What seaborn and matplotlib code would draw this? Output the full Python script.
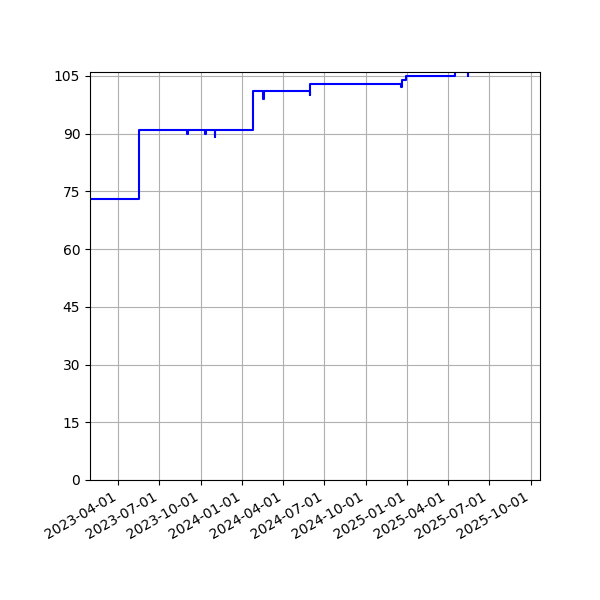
import pandas as pd
import seaborn as sns
import matplotlib.pyplot as plt
import matplotlib.dates as mdates

# step series
dates = [
    "2023-01-28", "2023-05-17", "2023-09-01", "2023-09-02", "2023-10-11",
    "2023-10-12", "2023-11-01", "2023-11-02", "2024-01-25", "2024-02-16",
    "2024-02-17", "2024-05-30", "2024-05-31", "2024-12-18", "2024-12-20",
    "2024-12-28", "2025-04-17", "2025-05-15", "2025-05-16", "2025-10-22",
]
values = [
    73, 91, 90, 91, 90,
    91, 89, 91, 101, 99,
    101, 100, 103, 102, 104,
    105, 107, 105, 107, 108,
]

df = pd.DataFrame({"date": pd.to_datetime(dates), "value": values})

fig, ax = plt.subplots(figsize=(6, 6), dpi=100)
sns.lineplot(data=df, x="date", y="value", ax=ax, color="blue",
             drawstyle="steps-post", linewidth=1.5)

ax.set_xlim(pd.Timestamp("2023-01-28"), pd.Timestamp("2025-10-22"))
ax.set_ylim(0, 106)
ax.set_yticks(range(0, 106, 15))
ax.xaxis.set_major_locator(mdates.MonthLocator(bymonth=(1, 4, 7, 10)))
ax.xaxis.set_major_formatter(mdates.DateFormatter("%Y-%m-%d"))
ax.set_xlabel("")
ax.set_ylabel("")
ax.grid(True)
fig.autofmt_xdate()
fig.subplots_adjust(left=0.15, right=0.9, top=0.88, bottom=0.2)
fig.savefig("out.png")
